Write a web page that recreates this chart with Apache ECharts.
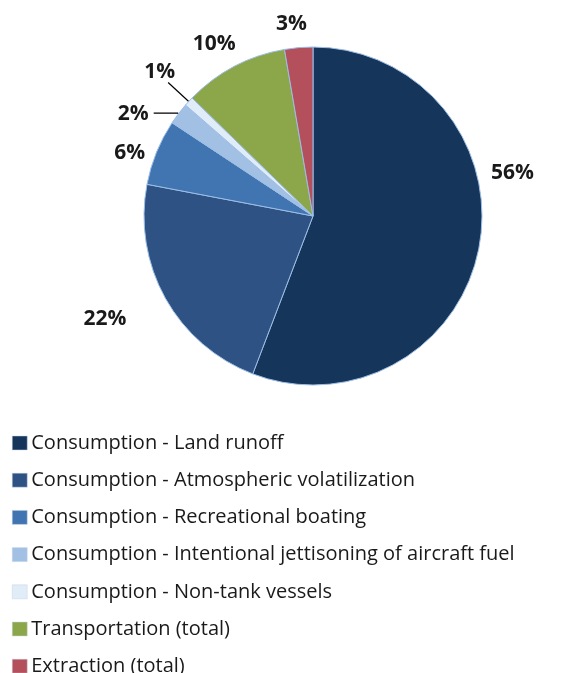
<!DOCTYPE html>
<html>
<head>
<meta charset="utf-8">
<script src="https://cdn.jsdelivr.net/npm/echarts@6/dist/echarts.min.js"></script>
<style>
html,body{margin:0;padding:0;background:#fff;}
#chart{width:569px;height:673px;}
</style>
</head>
<body>
<div id="chart"></div>
<script>
const categories = [
  'Consumption - Land runoff',
  'Consumption - Atmospheric volatilization',
  'Consumption - Recreational boating',
  'Consumption - Intentional jettisoning of aircraft fuel',
  'Consumption - Non-tank vessels',
  'Transportation (total)',
  'Extraction (total)'
];
const shares = [55.8, 22.2, 6.3, 2.1, 0.9, 10.0, 2.7];
const colors = ['#16355B', '#2D5283', '#4175B2', '#A2C0E4', '#E0ECF8', '#8CA74A', '#B4505C'];
const showLeader = [false, false, false, true, true, false, false];
const leaderLen = [8, 8, 8, 1, 28, 8, 8];
const leaderLen2 = [8, 8, 8, 24, 0, 8, 8];
const labelShift = [[-9, -75], [-19, 17], [9, 4], [0, 1], [12, -10], [18, -15], [22, -16]];

const chart = echarts.init(document.getElementById('chart'), null, {renderer: 'canvas'});
const data = categories.map((c, i) => ({
  name: c,
  value: shares[i],
  itemStyle: {color: colors[i]},
  labelLine: {show: showLeader[i], length: leaderLen[i], length2: leaderLen2[i]}
}));
chart.setOption({
  animation: false,
  legend: {
    orient: 'vertical',
    left: 7,
    top: 427,
    height: 260,
    itemWidth: 15,
    itemHeight: 14,
    itemGap: 15.2,
    icon: 'rect',
    itemStyle: {borderColor: '#c8d4e4', borderWidth: 0.5},
    textStyle: {fontFamily: 'Open Sans', fontSize: 20, color: '#1a1a1a', lineHeight: 22, padding: [0, 0, 0, -1]},
    data: categories
  },
  series: [{
    type: 'pie',
    center: [313, 216],
    radius: [0, 169],
    startAngle: 90,
    clockwise: true,
    percentPrecision: 0,
    avoidLabelOverlap: false,
    itemStyle: {borderColor: '#9cbde6', borderWidth: 1},
    label: {
      show: true,
      position: 'outside',
      formatter: '{d}%',
      fontFamily: 'Open Sans',
      fontWeight: 'bold',
      fontSize: 21,
      color: '#1a1a1a'
    },
    labelLine: {lineStyle: {color: '#000', width: 1.2}},
    labelLayout: function (p) {
      const s = labelShift[p.dataIndex];
      return {dx: s[0], dy: s[1]};
    },
    data: data
  }]
});
</script>
</body>
</html>
